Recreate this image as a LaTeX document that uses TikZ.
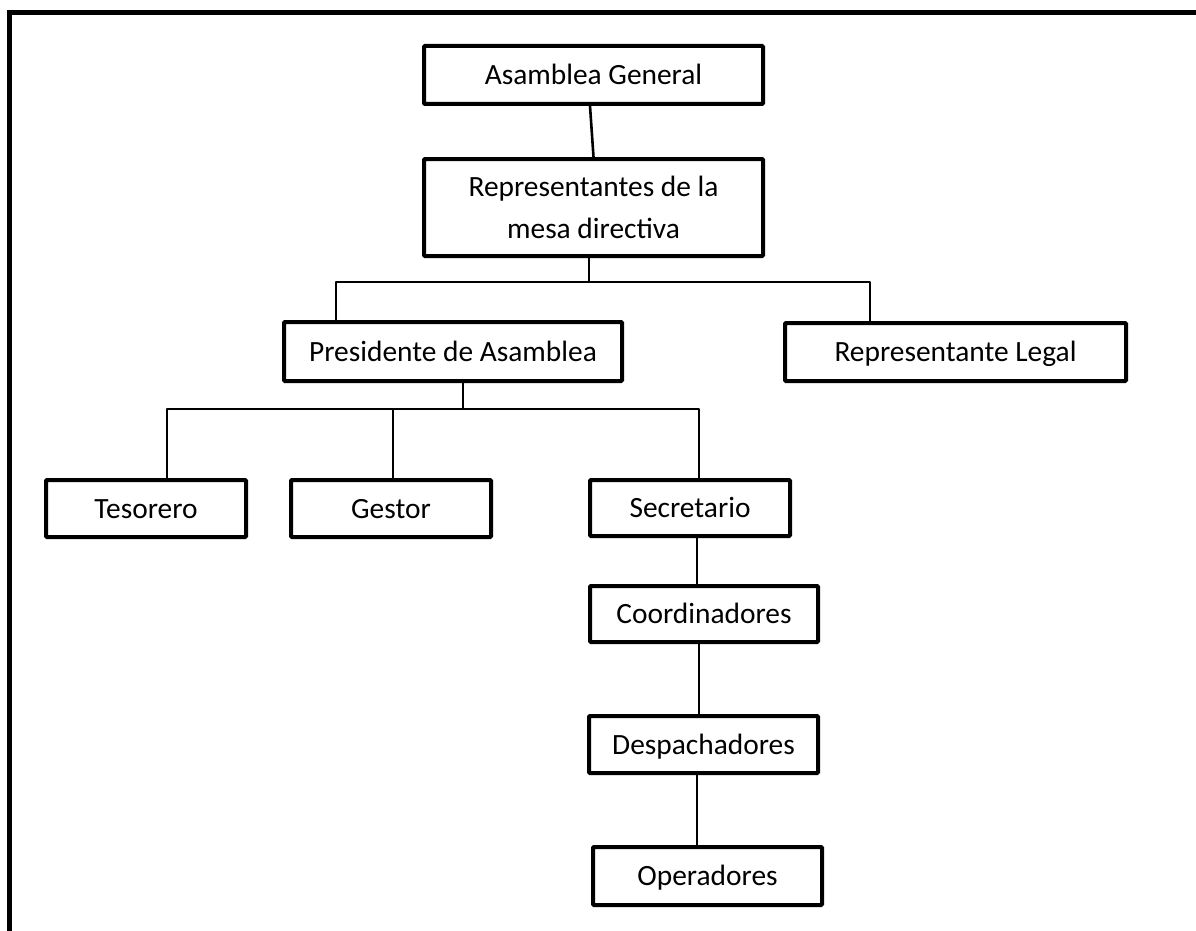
\documentclass[tikz,border=0pt]{standalone}
\usepackage{fontspec}
\setmainfont{Carlito}
\begin{document}
\begin{tikzpicture}[x=1pt,y=-1pt,
  orgbox/.style={draw=black, line width=4pt, rounded corners=1pt, fill=white,
    minimum width=#1, inner sep=0pt, font=\fontsize{29.4}{42}\selectfont,
    text height=19pt, text depth=0pt},
  orgbox2/.style={draw=black, line width=4pt, rounded corners=1pt, fill=white,
    minimum width=#1, inner sep=0pt, font=\fontsize{29.4}{42}\selectfont, align=center},
  link/.style={draw=black, line width=2.6pt, line join=round}]
\useasboundingbox (0,0) rectangle (1196,931);
\clip (0,0) rectangle (1196,931);
\fill[white] (0,0) rectangle (1196,931);
% outer frame (cut by page edge)
\draw[line width=5pt] (9.5,1000) -- (9.5,12.5) -- (1300,12.5);
% boxes
\node[orgbox=339pt, minimum height=58pt] (ag) at (593.5,75) {Asamblea General};
\node[orgbox2=339pt, minimum height=97pt] (rep) at (593.5,207.5) {Representantes de la\\mesa directiva};
\node[orgbox=338pt, minimum height=59pt] (pres) at (453,351.5) {Presidente de Asamblea};
\node[orgbox=341pt, minimum height=58pt] (rl) at (955.5,352) {Representante Legal};
\node[orgbox=200pt, minimum height=57pt] (tes) at (146,508.5) {Tesorero};
\node[orgbox=200pt, minimum height=57pt] (ges) at (391,508.5) {Gestor};
\node[orgbox=200pt, minimum height=56pt] (sec) at (690,508) {Secretario};
\node[orgbox=228pt, minimum height=56pt] (coo) at (704,614) {Coordinadores};
\node[orgbox=229pt, minimum height=57pt] (des) at (703.5,744.5) {Despachadores};
\node[orgbox=229pt, minimum height=58pt] (ope) at (707.5,876) {Operadores};
% bus points
\coordinate (b1) at (589,282);
\coordinate (b2) at (463,409);
% connectors
\draw[link] ([xshift=-3.5pt]ag.south) -- (rep.north);
\draw[link] ([xshift=-4.5pt]rep.south) -- (b1);
\draw[link] ([xshift=-117pt]pres.north) |- (b1) -| ([xshift=-85.5pt]rl.north);
\draw[link] ([xshift=10pt]pres.south) -- (b2);
\draw[link] ([xshift=21pt]tes.north) |- (b2) -| ([xshift=9pt]sec.north);
\draw[link] ([xshift=2pt]ges.north) -- ([xshift=2pt]ges.north |- b2);
\draw[link] ([xshift=7pt]sec.south) -- ([xshift=7pt]sec.south |- coo.north);
\draw[link] ([xshift=-5pt]coo.south) -- ([xshift=-5pt]coo.south |- des.north);
\draw[link] ([xshift=-6.5pt]des.south) -- ([xshift=-6.5pt]des.south |- ope.north);
\end{tikzpicture}
\end{document}
